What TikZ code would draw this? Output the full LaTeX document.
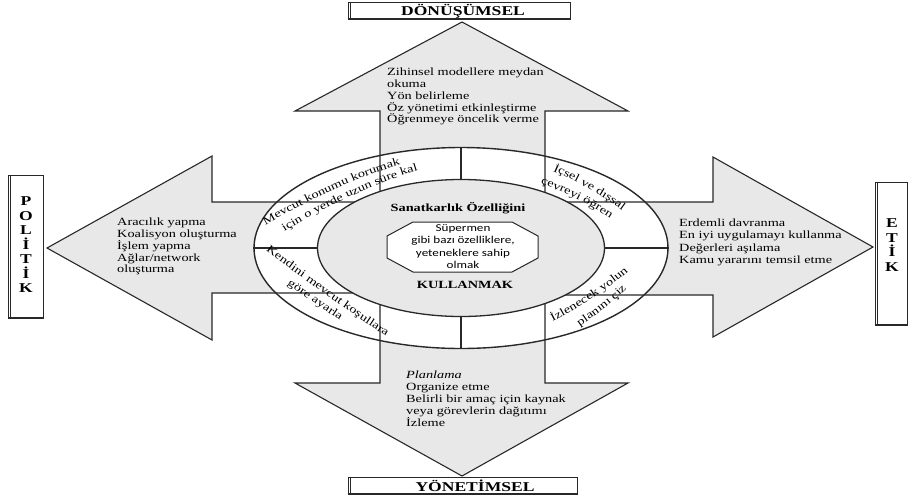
\documentclass[tikz,border=0pt]{standalone}
\usepackage{fontspec}
\setmainfont{Liberation Serif}[FakeStretch=1.3]
\newfontfamily\octfont{Carlito}[FakeStretch=1.25]
\usetikzlibrary{shapes.geometric,decorations.text}

\definecolor{panelgray}{RGB}{232,232,232}
\definecolor{edge}{RGB}{40,40,40}

\newcommand\ringfont{\fontsize{11}{11}\selectfont}
% text set along a gently curved line: start (#2,#3), control (#4,#5), end (#6,#7)
\newcommand\ringline[7]{%
  \path[ringtext={#1}] plot[domain=-0.3:1.3, samples=33]
    ({(1-\x)*(1-\x)*#2 + 2*(1-\x)*\x*#4 + \x*\x*#6},
     {(1-\x)*(1-\x)*#3 + 2*(1-\x)*\x*#5 + \x*\x*#7});}

\begin{document}
\begin{tikzpicture}[x=1pt,y=-1pt,
  crossshape/.style={insert path={
    (462,22) -- (628,111) -- (545,111) -- (545,202) -- (713,202) -- (713,157)
    -- (873,247) -- (713,337) -- (713,295) -- (545,295) -- (545,383) -- (628,383)
    -- (462,476) -- (295,383) -- (380,383) -- (380,293) -- (212,293) -- (212,340)
    -- (47,248) -- (212,156) -- (212,202) -- (380,202) -- (380,111) -- (295,111) -- cycle}},
  bodytext/.style={align=left, inner sep=0pt, anchor=north west,
    font=\fontsize{11}{11.9}\selectfont},
  labelbox/.style={draw=edge, fill=white, line width=0.9pt, inner sep=0pt},
  labeltext/.style={inner sep=0pt, font=\bfseries\fontsize{13.5}{14}\selectfont},
  vlabel/.style={inner sep=0pt, align=center, font=\bfseries\fontsize{13.5}{14.5}\selectfont},
  ringtext/.style={decorate, decoration={text along path, text align=center, text={|\ringfont|#1}}},
  divider/.style={draw=edge, line width=1.1pt}
]
\useasboundingbox (0,0) rectangle (910,501);

% four-way arrow cross: fill first, outline after the ring background
\path[fill=panelgray, crossshape];
\node[ellipse, minimum width=414pt, minimum height=201pt, inner sep=0pt,
      fill=white, draw=edge, line width=1.4pt] (outer) at (461,248) {};
\path[draw=edge, line width=1.1pt, line join=miter, crossshape];
\node[ellipse, minimum width=287pt, minimum height=137pt, inner sep=0pt,
      fill=panelgray, draw=edge, line width=1.3pt] (inner) at (461,248) {};

% ring dividers
\draw[divider] (outer.north) -- (inner.north);
\draw[divider] (outer.south) -- (inner.south);
\draw[divider] (outer.west) -- (inner.west);
\draw[divider] (outer.east) -- (inner.east);

% central octagon
\draw[draw=edge, fill=white, line width=1pt]
  (413,222) -- (512,222) -- (538,236) -- (538,258) -- (512,272) -- (413,272)
  -- (387,258) -- (387,236) -- cycle;
\node[inner sep=0pt, align=center, font=\octfont\fontsize{10.5}{12.5}\selectfont]
  (oct) at (463,246.5) {Süpermen\\gibi bazı özelliklere,\\yeteneklere sahip\\olmak};
\node[inner sep=0pt, font=\bfseries\fontsize{11}{12}\selectfont] (sanat) at (458,208) {Sanatkarlık Özelliğini};
\node[inner sep=0pt, font=\bfseries\fontsize{11}{12}\selectfont] (kullan) at (465,285) {KULLANMAK};

% curved texts in the ring
\ringline{Mevcut konumu korumak}{278}{218}{347.5}{179}{403}{164}
\ringline{için o yerde uzun süre kal}{287}{230}{348.5}{192.7}{416}{171}
\ringline{İçsel ve dışsal}{556.5}{172.6}{590}{187.4}{619.5}{208.6}
\ringline{çevreyi öğren}{545.7}{185.7}{577.5}{197.1}{605.7}{215.7}
\ringline{Kendini mevcut koşullara}{272.5}{255.7}{324.6}{295.35}{379.1}{331.6}
\ringline{göre ayarla}{291.6}{287.5}{313.6}{302.5}{335.6}{317.5}
\ringline{İzlenecek yolun}{556.7}{319.5}{592.9}{300.4}{624.7}{274.5}
\ringline{planını çiz}{583.9}{323.3}{604.6}{309.4}{622.9}{292.3}

% arrow texts
\node[bodytext] (toptext) at (387,67.5)
  {Zihinsel modellere meydan\\okuma\\Yön belirleme\\Öz yönetimi etkinleştirme\\Öğrenmeye öncelik verme};
\node[bodytext] (lefttext) at (117,217.5)
  {Aracılık yapma\\Koalisyon oluşturma\\İşlem yapma\\Ağlar/network\\oluşturma};
\node[bodytext, font=\fontsize{11}{12.4}\selectfont] (righttext) at (679,218.5)
  {Erdemli davranma\\En iyi uygulamayı kullanma\\Değerleri aşılama\\Kamu yararını temsil etme};
\node[bodytext, font=\fontsize{11}{12}\selectfont] (bottomtext) at (406,370.5)
  {\textit{Planlama}\\Organize etme\\Belirli bir amaç için kaynak\\veya görevlerin dağıtımı\\İzleme};

% label boxes
\node[labelbox, minimum width=222pt, minimum height=17pt] (topbox) at (459,10.5) {};
\node[labelbox, minimum width=229pt, minimum height=17pt] (botbox) at (462.5,485.5) {};
\node[labelbox, minimum width=35pt, minimum height=143pt] (leftbox) at (25.5,246.5) {};
\node[labelbox, minimum width=32pt, minimum height=143pt] (rightbox) at (891,253.5) {};
\foreach \b in {topbox,botbox,leftbox,rightbox}{
  \draw[edge, line width=0.7pt] ([xshift=2.5pt]\b.north west) -- ([xshift=2.5pt]\b.south west);
  \draw[edge, line width=0.7pt] ([yshift=1.5pt]\b.south west) -- ([yshift=1.5pt]\b.south east);
}
\node[labeltext] (dl) at (463,11) {DÖNÜŞÜMSEL};
\node[labeltext] (yl) at (475,485.5) {YÖNETİMSEL};
\node[vlabel] (pl) at (26,245) {P\\O\\L\\İ\\T\\İ\\K};
\node[vlabel] (el) at (892,245) {E\\T\\İ\\K};
\end{tikzpicture}
\end{document}
